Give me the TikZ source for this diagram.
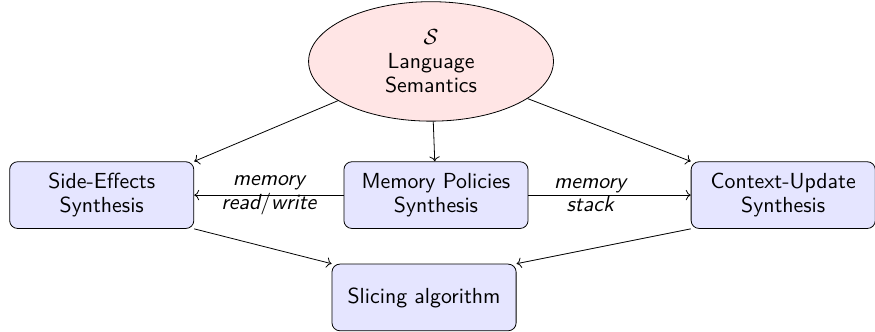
\documentclass[tikz,border=0pt]{standalone}
\usepackage{amsmath}
\usepackage{amssymb}
\usetikzlibrary{arrows.meta, positioning, shapes.geometric}

\begin{document}
\begin{tikzpicture}[
    font=\sffamily\fontsize{10.95}{12}\selectfont,
    box/.style={
        rectangle,
        rounded corners,
        draw=black,
        fill=blue!10,
        align=center,
        minimum width=92.5pt,
        minimum height=33.5pt
    },
    sem/.style={
        ellipse,
        draw=black,
        fill=red!10,
        align=center,
        minimum width=123pt,
        minimum height=60pt
    },
    arrow/.style={->},
    lbl/.style={align=center, font=\sffamily\itshape\fontsize{10.95}{12}\selectfont}
]
\useasboundingbox (-219pt,-68.5pt) rectangle (220.5pt,98pt);

\node[box] (policies) {Memory Policies\\Synthesis};
\node[box, left=75pt of policies] (effects) {Side-Effects\\Synthesis};
\node[box, right=81.5pt of policies] (context) {Context-Update\\Synthesis};
\node[sem, above=20pt of policies, xshift=-2.5pt] (semantics) {$\mathcal{S}$\\Language\\Semantics};
\node[box, below=17.5pt of policies, xshift=-6pt] (slicing) {Slicing algorithm};

\draw[arrow] (semantics) -- (effects.north east);
\draw[arrow] (semantics) -- (policies);
\draw[arrow] (semantics) -- (context.north west);
\draw[arrow] (policies) -- node[lbl] {memory\\read$/$write} (effects);
\draw[arrow] (policies) -- node[lbl, pos=0.38] {memory\\stack} (context);
\draw[arrow] (effects.south east) -- (slicing.north west);
\draw[arrow] (context.south west) -- (slicing.north east);

\end{tikzpicture}
\end{document}
